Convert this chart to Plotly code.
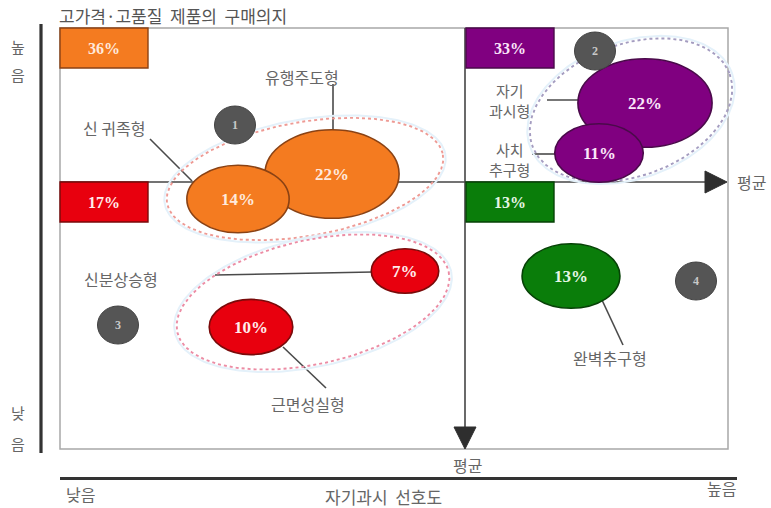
import numpy as np
import plotly.graph_objects as go

# ---- data -------------------------------------------------------------
segments = ["신 귀족형", "유행주도형", "자기과시형", "사치추구형", "신분상승형", "근면성실형", "완벽추구형"]
segment_share = [14, 22, 22, 11, 7, 10, 13]          # % of respondents
segment_group = [1, 1, 2, 2, 3, 3, 4]                # quadrant of each segment
group_share = [36, 33, 17, 13]                       # quadrant totals, %
group_numbers = ["1", "2", "3", "4"]

title_text = "고가격·고품질\u00a0\u00a0제품의\u00a0\u00a0구매의지"
x_title = "자기과시\u00a0\u00a0선호도"
mean_text = "평균"
low_text, high_text = "낮음", "높음"

# ---- placement on the 771 x 508 canvas ----------------------------------
seg_center = [(238, 199), (332, 174), (645, 103), (599, 153), (405, 271), (251, 327), (571, 276)]
seg_label_pos = [(114, 128), (302, 77), (509, 100), (509, 159), (121, 279), (308, 404), (610, 358)]
seg_label_text = ["신 귀족형", "유행주도형", "자기<br>과시형", "사치<br>추구형", "신분상승형", "근면성실형", "완벽추구형"]
seg_label_size = [16, 16, 15, 15, 16, 16, 16]
seg_leader = [((150, 139), (192, 181)), ((333, 84), (333, 131)), ((547, 100), (580, 100)),
              ((532, 154), (558, 154)), ((215, 275), (373, 272)), ((283, 347), (326, 388)),
              ((602, 300), (623, 345))]
draw_order = [1, 0, 2, 3, 4, 5, 6]

group_box = [(60, 28), (466, 28), (60, 182), (466, 182)]
group_badge = [(235, 125), (595, 51), (118, 325), (696, 281)]
group_ring = [  # centre, semi-axes, tilt (deg)
    ((305, 179), 140, 57, 10),
    ((631, 110), 105, 66, 20),
    ((313, 302), 139, 62, 12.5),
]
ring_color = ["#EE9A94", "#A49CC0", "#EC8CA4"]

fill_color = {1: "#F47B20", 2: "#800080", 3: "#E8000E", 4: "#0A7D0A"}
edge_color = {1: "#8A4214", 2: "#4A0A4A", 3: "#7A0A0A", 4: "#064206"}
text_color = {1: "#FFE9DC", 2: "#FBE6FA", 3: "#FFECEC", 4: "#E6F6E6"}

frame = dict(x0=60, y0=28, x1=728, y1=449)
mean_x, mean_y = 465, 182

LABEL_FONT = "Noto Sans CJK KR"
NUM_FONT = "Liberation Serif"
GREY = "#666666"
DARK = "#333333"

fig = go.Figure()
shapes = []
ann = []

# frame and mean lines (behind everything)
shapes.append(dict(type="rect", layer="below", **frame, line=dict(color="#A8A8A8", width=1.5)))
shapes.append(dict(type="line", layer="below", x0=frame["x0"], x1=714, y0=mean_y, y1=mean_y,
                   line=dict(color="#444444", width=1.6)))
shapes.append(dict(type="line", layer="below", x0=mean_x, x1=mean_x, y0=frame["y0"], y1=434,
                   line=dict(color="#444444", width=1.6)))
# thick side axes
shapes.append(dict(type="line", layer="below", x0=41, x1=41, y0=24, y1=453, line=dict(color=DARK, width=3.2)))
shapes.append(dict(type="line", layer="below", x0=60, x1=737, y0=478.5, y1=478.5, line=dict(color=DARK, width=3.2)))

# leader lines
for (p, q) in seg_leader:
    shapes.append(dict(type="line", layer="below", x0=p[0], y0=p[1], x1=q[0], y1=q[1],
                       line=dict(color="#4A4A4A", width=1.6)))

# dotted group rings with a faint halo
t = np.linspace(0, 2 * np.pi, 240)
for (c, a, b, ang), col in zip(group_ring, ring_color):
    th = np.radians(ang)
    ux, uy = np.cos(th), -np.sin(th)
    vx, vy = np.sin(th), np.cos(th)
    for off, lc, w, dash in ((2.5, "#E4F1FA", 2.0, "solid"), (0, col, 1.9, "dot")):
        xs = c[0] + (a + off) * np.cos(t) * ux + (b + off) * np.sin(t) * vx
        ys = c[1] + (a + off) * np.cos(t) * uy + (b + off) * np.sin(t) * vy
        fig.add_trace(go.Scatter(x=xs, y=ys, mode="lines", hoverinfo="skip", showlegend=False,
                                 line=dict(color=lc, width=w, dash=dash)))

# segment bubbles: width grows with share
for i in draw_order:
    share = segment_share[i]
    g = segment_group[i]
    rx = 10.5 * share ** 0.6
    ry = 0.66 * rx
    cx, cy = seg_center[i]
    shapes.append(dict(type="circle", layer="above", x0=cx - rx, x1=cx + rx, y0=cy - ry, y1=cy + ry,
                       fillcolor=fill_color[g], line=dict(color=edge_color[g], width=1.6)))
    ann.append(dict(x=cx, y=cy, text=f"<b>{share}%</b>", showarrow=False,
                    font=dict(family=NUM_FONT, size=17, color=text_color[g])))

# segment names
for txt, (x, y), fs in zip(seg_label_text, seg_label_pos, seg_label_size):
    ann.append(dict(x=x, y=y, text=txt, showarrow=False, borderpad=0,
                    font=dict(family=LABEL_FONT, size=fs, color=GREY)))

# quadrant boxes and badges
for k in range(4):
    g = k + 1
    bx, by = group_box[k]
    shapes.append(dict(type="rect", layer="above", x0=bx, x1=bx + 88, y0=by, y1=by + 40,
                       fillcolor=fill_color[g], line=dict(color=edge_color[g], width=1.4)))
    ann.append(dict(x=bx + 44, y=by + 20, text=f"<b>{group_share[k]}%</b>", showarrow=False,
                    font=dict(family=NUM_FONT, size=16, color=text_color[g])))
    cx, cy = group_badge[k]
    shapes.append(dict(type="circle", layer="above", x0=cx - 20.5, x1=cx + 20.5, y0=cy - 19, y1=cy + 19,
                       fillcolor="#555555", line=dict(color="#444444", width=1)))
    ann.append(dict(x=cx, y=cy, text=f"<b>{group_numbers[k]}</b>", showarrow=False,
                    font=dict(family=NUM_FONT, size=12, color="#C8C8C8")))

# arrow heads on the mean lines
shapes.append(dict(type="path", layer="above", path="M 705 171 L 727 182 L 705 193 Z",
                   fillcolor="#2E2E2E", line=dict(color="#2E2E2E", width=1)))
shapes.append(dict(type="path", layer="above", path="M 454 427 L 476 427 L 465 449 Z",
                   fillcolor="#2E2E2E", line=dict(color="#2E2E2E", width=1)))

# axis texts
ann.append(dict(x=57, y=15, text=title_text, showarrow=False, xanchor="left",
                font=dict(family=LABEL_FONT, size=17, color="#555555")))
for ch, y in zip(high_text, (46, 74)):
    ann.append(dict(x=18, y=y, text=ch, showarrow=False, font=dict(family=LABEL_FONT, size=15, color=GREY)))
for ch, y in zip(low_text, (412, 443)):
    ann.append(dict(x=18, y=y, text=ch, showarrow=False, font=dict(family=LABEL_FONT, size=15, color=GREY)))
ann.append(dict(x=80, y=494, text=low_text, showarrow=False, font=dict(family=LABEL_FONT, size=16, color=GREY)))
ann.append(dict(x=721, y=488, text=high_text, showarrow=False, font=dict(family=LABEL_FONT, size=16, color=GREY)))
ann.append(dict(x=383, y=496, text=x_title, showarrow=False, font=dict(family=LABEL_FONT, size=17, color=GREY)))
ann.append(dict(x=467, y=465, text=mean_text, showarrow=False, font=dict(family=LABEL_FONT, size=16, color=GREY)))
ann.append(dict(x=735, y=182, text=mean_text, showarrow=False, xanchor="left",
                font=dict(family=LABEL_FONT, size=16, color=GREY)))

for a in ann:
    a.setdefault("xref", "x")
    a.setdefault("yref", "y")
for s in shapes:
    s.setdefault("xref", "x")
    s.setdefault("yref", "y")

fig.update_layout(
    width=771, height=508,
    margin=dict(l=0, r=0, t=0, b=0),
    paper_bgcolor="white", plot_bgcolor="white",
    xaxis=dict(range=[0, 771], visible=False, fixedrange=True),
    yaxis=dict(range=[508, 0], visible=False, fixedrange=True),
    shapes=shapes, annotations=ann, showlegend=False,
)

fig.write_html("out.html", config={"displayModeBar": False})
